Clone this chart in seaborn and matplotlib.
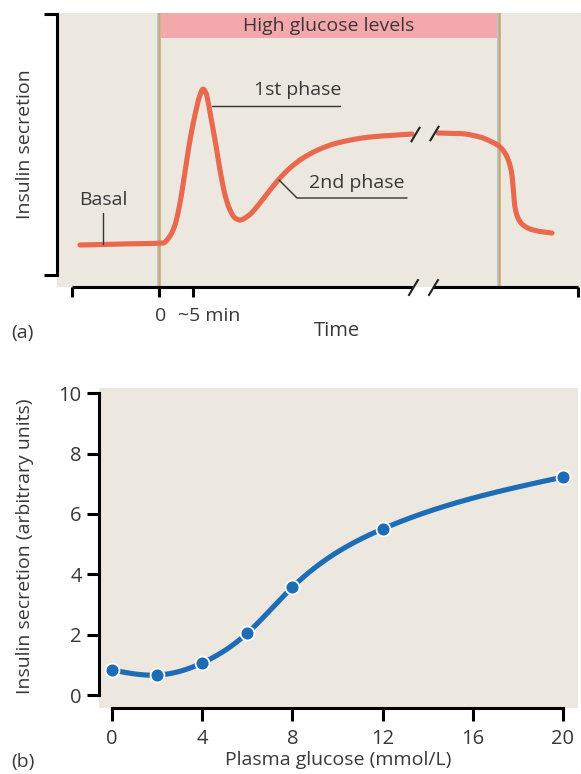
import numpy as np
import pandas as pd
import matplotlib
matplotlib.use("Agg")
import matplotlib.pyplot as plt
import matplotlib.transforms as mtransforms
from matplotlib.lines import Line2D
from matplotlib.patches import Rectangle
from matplotlib.path import Path
import seaborn as sns

# ---------------- data: panel (a) schematic secretion vs time ----------------
time_before_break = [-11.62, -5.74, 0.59, 1.62, 2.35, 3.09, 3.82, 4.56, 5.29, 6.03,
                     6.47, 6.91, 7.50, 8.24, 8.97, 9.71, 10.44, 11.18, 11.91, 13.09,
                     14.85, 16.32, 17.79, 19.26, 21.18, 23.68, 26.18, 31.03, 37.21]
secretion_before_break = [11.49, 11.88, 12.26, 14.94, 19.16, 27.59, 39.46, 51.72, 61.30,
                          68.97, 71.26, 69.73, 62.45, 51.72, 40.23, 30.65, 24.90, 21.84,
                          21.07, 22.61, 27.59, 32.57, 37.16, 41.00, 44.83, 48.28, 50.57,
                          52.87, 54.02]
time_after_break = [41.03, 44.26, 47.21, 48.68, 50.00, 50.88, 51.47, 51.91, 52.13, 52.35,
                    52.79, 53.53, 54.56, 56.03, 57.79]
secretion_after_break = [54.41, 54.21, 52.87, 51.34, 49.43, 46.74, 43.30, 38.31, 31.80,
                         26.05, 21.84, 19.16, 17.62, 16.67, 16.09]
glucose_on, glucose_off = 0.0, 50.0
time_ticks = [-12.8, 0, 5, 61.6]
axis_break = [37.4, 40.3]

# ---------------- data: panel (b) secretion vs plasma glucose ----------------
glucose = [0, 2, 4, 6, 8, 12, 20]
insulin = [0.83, 0.66, 1.06, 2.05, 3.57, 5.50, 7.22]
x_ticks = [0, 4, 8, 12, 16, 20]
y_ticks = [0, 2, 4, 6, 8, 10]

# ---------------- style ----------------
sns.set_theme(style="white")
plt.rcParams['font.family'] = ['Open Sans', 'DejaVu Sans']
BG = '#ECE8DF'
ORANGE = '#E9694F'
BLUE = '#1D6CB6'
PINK = '#F5A8AB'
TAN = '#C4A76E'
LBLUE = '#A7C9E3'
TXT = '#383838'
FS = 14

W, H = 581, 774
fig = plt.figure(figsize=(W / 100, H / 100), dpi=100)
fig.patch.set_facecolor('white')


def fx(x):
    return x / W


def fy(y):
    return 1 - y / H


def ftext(x, y, s, **kw):
    kw.setdefault('color', TXT)
    kw.setdefault('fontsize', FS)
    fig.text(fx(x), fy(y), s, **kw)


def fline(xs, ys, **kw):
    kw.setdefault('color', '#333333')
    kw.setdefault('lw', 1.0)
    fig.add_artist(Line2D([fx(v) for v in xs], [fy(v) for v in ys], **kw))


def pchip(xk, yk, n=400):
    """Monotone cubic rendering of a polyline (for drawing smooth strokes)."""
    xk = np.asarray(xk, float)
    yk = np.asarray(yk, float)
    m = len(xk)
    h = np.diff(xk)
    delta = np.diff(yk) / h
    d = np.zeros(m)
    d[0], d[-1] = delta[0], delta[-1]
    for k in range(1, m - 1):
        if delta[k - 1] * delta[k] > 0:
            w1 = 2 * h[k] + h[k - 1]
            w2 = h[k] + 2 * h[k - 1]
            d[k] = (w1 + w2) / (w1 / delta[k - 1] + w2 / delta[k])
    xs = np.linspace(xk[0], xk[-1], n)
    idx = np.clip(np.searchsorted(xk, xs) - 1, 0, m - 2)
    hh = h[idx]
    tt = (xs - xk[idx]) / hh
    h00 = 2 * tt ** 3 - 3 * tt ** 2 + 1
    h10 = tt ** 3 - 2 * tt ** 2 + tt
    h01 = -2 * tt ** 3 + 3 * tt ** 2
    h11 = tt ** 3 - tt ** 2
    ys = h00 * yk[idx] + h10 * hh * d[idx] + h01 * yk[idx + 1] + h11 * hh * d[idx + 1]
    return xs, ys


def natural_spline(xk, yk, n=300):
    xk = np.asarray(xk, float)
    yk = np.asarray(yk, float)
    m = len(xk)
    h = np.diff(xk)
    A = np.zeros((m, m))
    r = np.zeros(m)
    A[0, 0] = A[-1, -1] = 1
    for i in range(1, m - 1):
        A[i, i - 1] = h[i - 1]
        A[i, i] = 2 * (h[i - 1] + h[i])
        A[i, i + 1] = h[i]
        r[i] = 6 * ((yk[i + 1] - yk[i]) / h[i] - (yk[i] - yk[i - 1]) / h[i - 1])
    M = np.linalg.solve(A, r)
    xs = np.linspace(xk[0], xk[-1], n)
    idx = np.clip(np.searchsorted(xk, xs) - 1, 0, m - 2)
    x0, x1 = xk[idx], xk[idx + 1]
    hh = x1 - x0
    a = (x1 - xs) / hh
    b = (xs - x0) / hh
    ys = (a * yk[idx] + b * yk[idx + 1]
          + ((a ** 3 - a) * M[idx] + (b ** 3 - b) * M[idx + 1]) * hh ** 2 / 6)
    return xs, ys


# ================= panel (a) =================
ax1 = fig.add_axes([fx(57), fy(287), (581 - 57) / W, (287 - 13) / H])
ax1.set_facecolor(BG)
ax1.set_xlim(-15.0, 62.06)
ax1.set_ylim(-4.6, 100.4)
for sp in ['top', 'right', 'bottom']:
    ax1.spines[sp].set_visible(False)
ax1.spines['left'].set_bounds(0, 100)
ax1.spines['left'].set_linewidth(2.2)
ax1.spines['left'].set_color('black')
ax1.set_yticks([0, 100])
ax1.set_yticklabels([])
ax1.set_xticks(time_ticks)
ax1.set_xticklabels([])
ax1.tick_params(axis='y', length=9.5, width=2.2, color='black', direction='out', left=True)
ax1.tick_params(axis='x', length=7, width=2.2, color='black', direction='out', bottom=True)

# high glucose band
ax1.add_patch(Rectangle((glucose_on + 0.3, 90.8), glucose_off - glucose_on - 0.6, 12,
                        facecolor=PINK, edgecolor='none', zorder=1))
ax1.text((glucose_on + glucose_off) / 2, 95.5, 'High glucose levels', ha='center',
         va='center', fontsize=FS, color=TXT)

# vertical markers for glucose on/off
off = mtransforms.offset_copy(ax1.transData, fig=fig, x=-1.7, y=0, units='dots')
for xv in (glucose_on, glucose_off):
    ax1.axvline(xv, color=TAN, lw=1.8, zorder=2)
    ax1.plot([xv, xv], [-4.6, 100.4], color=LBLUE, lw=0.7, transform=off, zorder=2)

# secretion curve (two pieces around the time-axis break)
for tt_, ss_ in ((time_before_break, secretion_before_break),
                 (time_after_break, secretion_after_break)):
    cx, cy = pchip(tt_, ss_)
    sns.lineplot(x=cx, y=cy, ax=ax1, color=ORANGE, lw=3.7, sort=False,
                 estimator=None, solid_capstyle='round', solid_joinstyle='round', zorder=4)
ax1.set_xlabel('')
ax1.set_ylabel('')

# x axis with break
xt = ax1.get_xaxis_transform()
ax1.plot([time_ticks[0], axis_break[0]], [0, 0], color='black', lw=2.2, transform=xt,
         clip_on=False, solid_capstyle='butt', zorder=5)
ax1.plot([axis_break[1], time_ticks[-1]], [0, 0], color='black', lw=2.2, transform=xt,
         clip_on=False, solid_capstyle='butt', zorder=5)
slash = Path([(-0.6, -1.0), (0.6, 1.0)], [Path.MOVETO, Path.LINETO])
ax1.plot(axis_break, [0, 0], transform=xt, linestyle='none', marker=slash, ms=12,
         mec='#222222', mew=1.5, clip_on=False, zorder=6)
ax1.plot([37.6, 40.4], [54.2, 54.4], linestyle='none', marker=slash, ms=11,
         mec='#222222', mew=1.5, zorder=6)

# annotations panel (a)
ftext(254, 90, '1st phase', va='center', ha='left')
fline([212, 340], [106, 106])
ftext(309, 183, '2nd phase', va='center', ha='left')
fline([279, 297, 407], [180, 198, 198])
ftext(79, 200, 'Basal', va='center', ha='left')
fline([103, 103], [213, 244])
ftext(25, 144, 'Insulin secretion', rotation=90, va='center', ha='center')
ftext(161, 316, '0', va='center', ha='center')
ftext(178, 316, '~5 min', va='center', ha='left')
ftext(337, 331, 'Time', va='center', ha='center', fontsize=14.5)
ftext(11, 333, '(a)', va='center', ha='left')

# ================= panel (b) =================
ax2 = fig.add_axes([fx(99), fy(708), (578 - 99) / W, (708 - 388) / H])
ax2.set_facecolor(BG)
ax2.set_xlim(-0.576, 20.67)
ax2.set_ylim(-0.43, 10.17)
for sp in ['top', 'right']:
    ax2.spines[sp].set_visible(False)
for sp in ['left', 'bottom']:
    ax2.spines[sp].set_linewidth(2.2)
    ax2.spines[sp].set_color('black')
ax2.spines['left'].set_bounds(0, 10)
ax2.spines['bottom'].set_bounds(0, 20)
ax2.set_xticks(x_ticks)
ax2.set_yticks(y_ticks)
ax2.tick_params(axis='both', length=9, width=2.2, color='black', direction='out',
                labelsize=14.5, labelcolor=TXT, left=True, bottom=True)
ax2.tick_params(axis='y', pad=3.5)
ax2.tick_params(axis='x', pad=6)

sx, sy = natural_spline(glucose, insulin)
sns.lineplot(x=sx, y=sy, ax=ax2, color=BLUE, lw=3.7, sort=False, estimator=None,
             solid_capstyle='round', zorder=3)
df_b = pd.DataFrame({'glucose': glucose, 'insulin': insulin})
sns.scatterplot(data=df_b, x='glucose', y='insulin', ax=ax2, color=BLUE, s=100,
                edgecolor='white', linewidth=1.3, zorder=4, clip_on=False)
ax2.set_xlabel('')
ax2.set_ylabel('')

ftext(25, 546, 'Insulin secretion (arbitrary units)', rotation=90,
      va='center', ha='center')
ftext(338, 760, 'Plasma glucose (mmol/L)', va='center', ha='center')
ftext(11, 762, '(b)', va='center', ha='left')

fig.savefig('out.png', dpi=100, facecolor='white')
